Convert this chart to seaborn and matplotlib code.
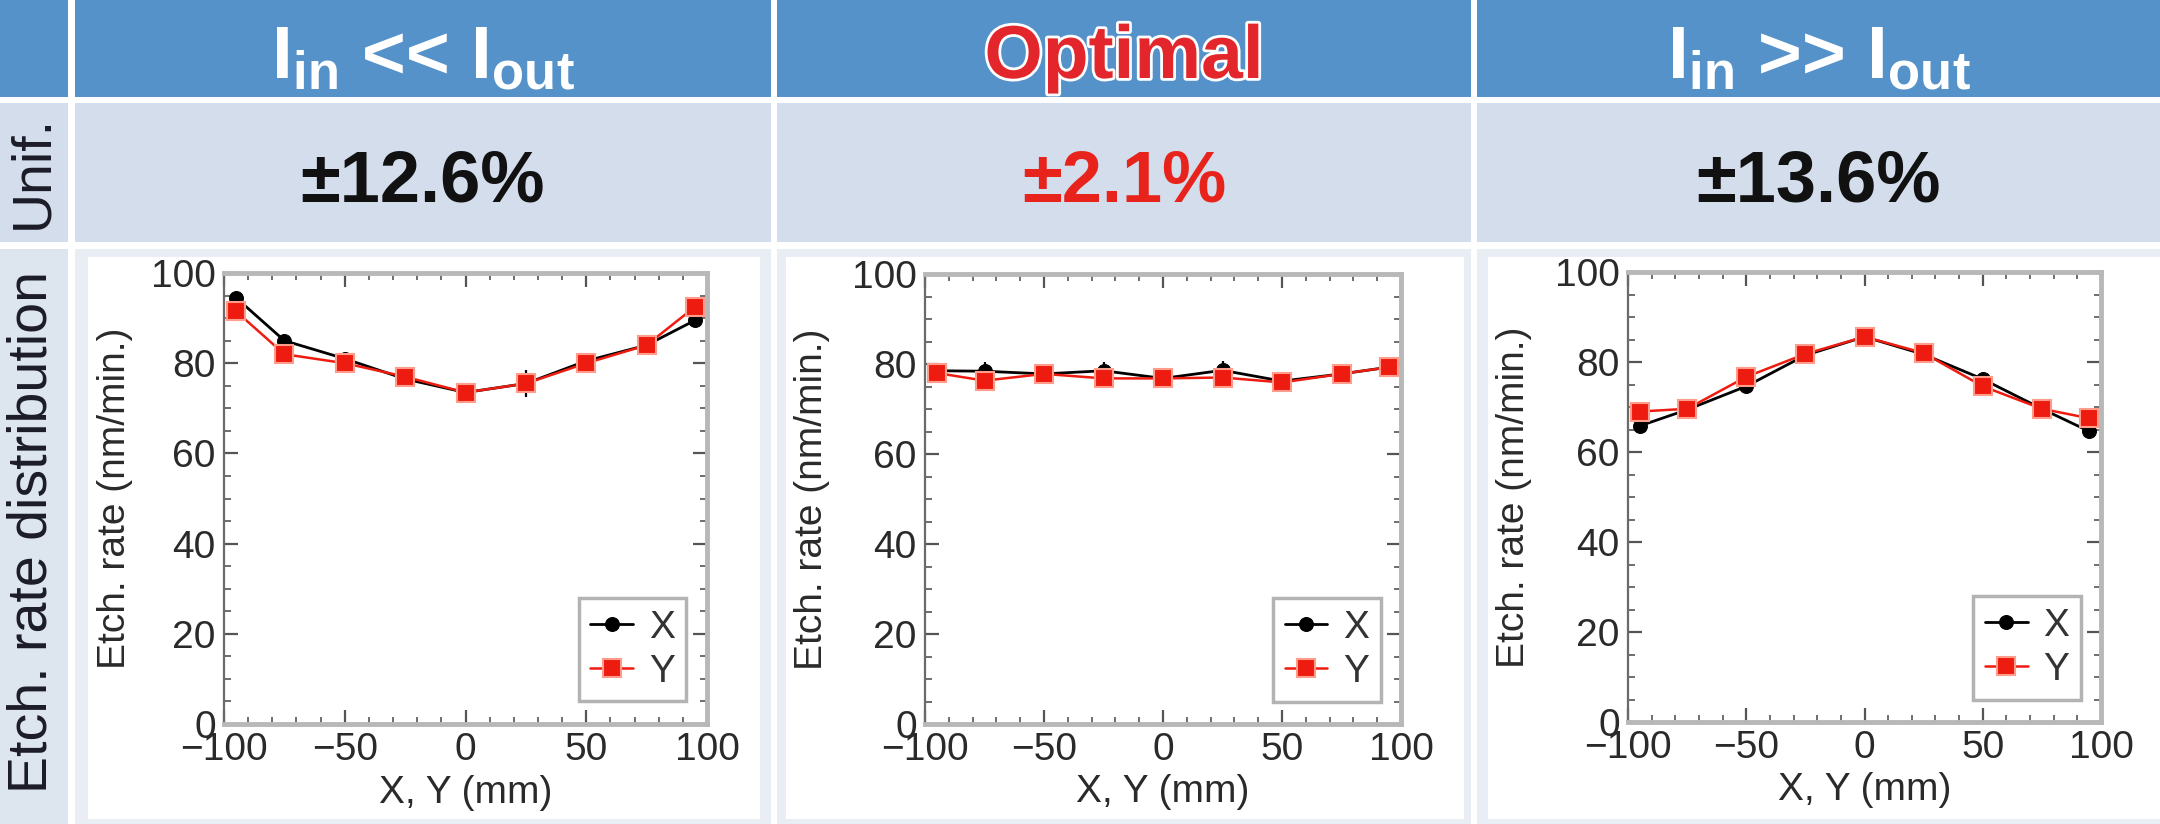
import matplotlib
matplotlib.use("Agg")
import matplotlib.pyplot as plt
import matplotlib.patheffects as pe
from matplotlib.patches import Rectangle
from matplotlib.ticker import MultipleLocator
import seaborn as sns

# ---------------- data ----------------
positions = [-95, -75, -50, -25, 0, 25, 50, 75, 95]

low_x = [94.5, 85.0, 81.0, 76.5, 73.5, 75.5, 80.5, 84.0, 89.5]
low_y = [91.5, 82.0, 80.0, 77.0, 73.5, 75.5, 80.0, 84.0, 92.5]
low_x_err = [1.5, 1.5, 1.5, 1.5, 1.5, 3.0, 1.5, 1.5, 1.5]

opt_x = [78.5, 78.4, 77.8, 78.5, 76.8, 78.6, 76.2, 77.8, 79.3]
opt_y = [78.0, 76.3, 77.8, 76.8, 76.8, 77.0, 75.9, 77.8, 79.3]
opt_x_err = [1.5, 2.0, 1.5, 2.0, 1.5, 2.0, 1.5, 1.5, 1.5]

high_x = [65.8, 69.4, 74.6, 81.5, 85.6, 81.7, 76.2, 69.6, 64.6]
high_y = [69.0, 69.6, 76.7, 81.8, 85.6, 82.0, 74.6, 69.6, 67.5]
high_x_err = [1.5, 1.5, 1.5, 1.5, 1.5, 1.5, 1.5, 1.5, 1.5]

headers = [r"$\mathbf{I}_{\mathbf{in}}$ << $\mathbf{I}_{\mathbf{out}}$",
           "Optimal",
           r"$\mathbf{I}_{\mathbf{in}}$ >> $\mathbf{I}_{\mathbf{out}}$"]
uniformity = ["\u00b112.6%", "\u00b12.1%", "\u00b113.6%"]
row_labels = ["Unif.", "Etch. rate distribution"]
series_names = ["X", "Y"]
x_label = "X, Y (mm)"
y_label = "Etch. rate (nm/min.)"

# ---------------- style ----------------
sns.set_style("white")
plt.rcParams["font.family"] = ["Liberation Sans", "DejaVu Sans"]
plt.rcParams["mathtext.fontset"] = "custom"
plt.rcParams["mathtext.rm"] = "Liberation Sans"
plt.rcParams["mathtext.bf"] = "Liberation Sans:bold"
plt.rcParams["mathtext.it"] = "Liberation Sans:italic"

W, H = 2160, 824
fig = plt.figure(figsize=(W / 100, H / 100), dpi=100)
fig.patch.set_facecolor("white")


def rect(x0, y0, x1, y1, color, z=-5):
    fig.add_artist(Rectangle((x0 / W, 1 - y1 / H), (x1 - x0) / W, (y1 - y0) / H,
                             transform=fig.transFigure, facecolor=color,
                             edgecolor="none", zorder=z))


cols = [(0, 68), (75, 771), (777, 1471), (1477, 2160)]
HEAD = "#5592c9"
UNIF = "#d3ddec"
for (a, b) in cols:
    rect(a, 0, b, 97, HEAD)
    rect(a, 103, b, 242, UNIF)
rect(0, 249, 68, 824, "#dde5ef")
for (a, b) in cols[1:]:
    rect(a, 249, b, 824, "#e9eef5")
inner = [(88, 760), (786, 1464), (1488, 2160)]
for (a, b) in inner:
    rect(a, 257, b, 819, "white", z=-4)

# header + uniformity texts
centers = [(a + b) / 2 for (a, b) in cols[1:]]
for i, c in enumerate(centers):
    if i == 1:
        fig.text(c / W, 1 - 78 / H, headers[i], ha="center", va="baseline",
                 fontsize=54, fontweight="bold", color="#e3262b",
                 path_effects=[pe.Stroke(linewidth=4, foreground="white"), pe.Normal()])
        col = "#e8231c"
    else:
        fig.text(c / W, 1 - 78 / H, headers[i], ha="center", va="baseline",
                 fontsize=54, fontweight="bold", color="white")
        col = "#111111"
    fig.text(c / W, 1 - 202 / H, uniformity[i], ha="center", va="baseline",
             fontsize=52, fontweight="bold", color=col)

fig.text(33 / W, 1 - 172 / H, row_labels[0], rotation=90, ha="center", va="center",
         fontsize=40, color="#1c1c28")
fig.text(33 / W, 1 - 532 / H, row_labels[1], rotation=90, ha="center", va="center",
         fontsize=40, color="#1c1c28")

# ---------------- panels ----------------
panels = [
    ((224, 273, 707, 724), low_x, low_y, low_x_err, -0.188),
    ((925, 274, 1401, 724), opt_x, opt_y, opt_x_err, -0.2),
    ((1628, 272, 2101, 722), high_x, high_y, high_x_err, -0.204),
]

for (x0, y0, x1, y1), xs, ys, xerr, ylab_x in panels:
    ax = fig.add_axes([x0 / W, 1 - y1 / H, (x1 - x0) / W, (y1 - y0) / H])
    ax.set_facecolor("white")
    ax.errorbar(positions, xs, yerr=xerr, fmt="none", ecolor="black",
                elinewidth=1.6, capsize=0, zorder=2)
    sns.lineplot(x=positions, y=xs, ax=ax, color="black", marker="o",
                 markersize=10, markeredgecolor="black", linewidth=2.0,
                 label=series_names[0], zorder=3)
    sns.lineplot(x=positions, y=ys, ax=ax, color="#ee1c10", marker="s",
                 markersize=13, markeredgecolor="#ff9c8c", markeredgewidth=1.5,
                 linewidth=1.8, label=series_names[1], zorder=4)
    ax.set_xlim(-100, 100)
    ax.set_ylim(0, 100)
    ax.xaxis.set_major_locator(MultipleLocator(50))
    ax.xaxis.set_minor_locator(MultipleLocator(10))
    ax.yaxis.set_major_locator(MultipleLocator(20))
    ax.yaxis.set_minor_locator(MultipleLocator(5))
    ax.tick_params(which="both", direction="in", top=True, right=True,
                   bottom=True, left=True, color="#555555")
    ax.tick_params(which="major", length=10, width=1.6, labelsize=28,
                   labelcolor="#2a2a2a", pad=6)
    ax.tick_params(which="minor", length=5, width=1.2)
    for side, sp in ax.spines.items():
        sp.set_visible(True)
        if side == "left":
            sp.set_color("#6a6a6a")
            sp.set_linewidth(1.6)
        else:
            sp.set_color("#b8b8b8")
            sp.set_linewidth(3.5)
    ax.set_xlabel(x_label, fontsize=28, color="#2a2a2a")
    ax.set_ylabel(y_label, fontsize=28, color="#2a2a2a")
    ax.yaxis.set_label_coords(ylab_x, 0.5)
    ax.xaxis.set_label_coords(0.5, -0.112)
    leg = ax.legend(loc="lower right", bbox_to_anchor=(0.957, 0.05),
                    borderaxespad=0, fontsize=28, frameon=True, fancybox=False,
                    handlelength=1.1, handletextpad=0.4, borderpad=0.3,
                    labelspacing=0.2)
    leg.get_frame().set_edgecolor("#a0a0a0")
    leg.get_frame().set_linewidth(2.5)
    for t in leg.get_texts():
        t.set_color("#333333")

fig.savefig("out.png", dpi=100)
